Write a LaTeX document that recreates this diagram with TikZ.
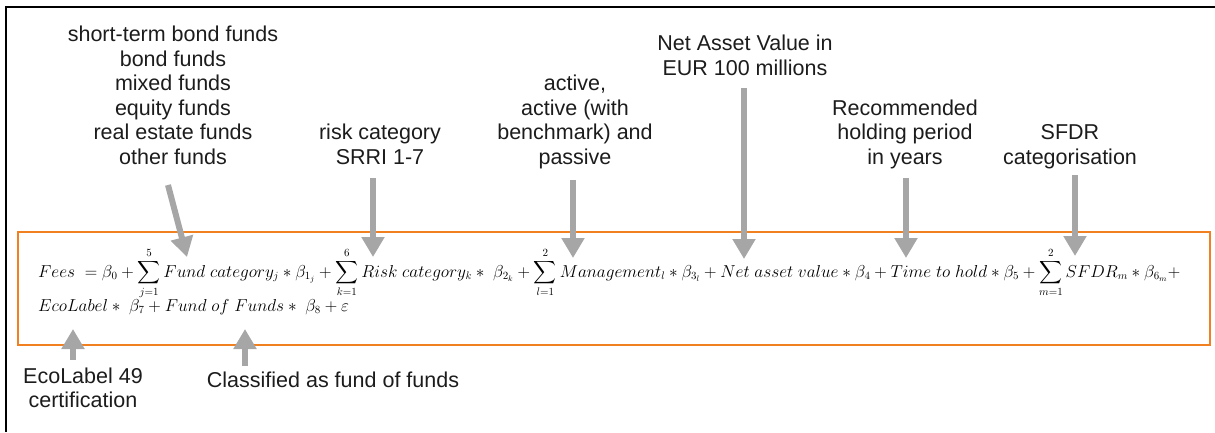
\documentclass[tikz,border=0pt]{standalone}
\usepackage{amsmath,amssymb}
\usepackage[no-math]{fontspec}
\newfontfamily\labelfont{Liberation Sans}
\usetikzlibrary{arrows.meta}
\definecolor{pointergray}{RGB}{166,166,166}
\definecolor{frameorange}{RGB}{240,128,32}
\definecolor{labeltext}{RGB}{28,28,28}

\begin{document}
\begin{tikzpicture}[x=1pt,y=-1pt,
	lbl/.style={font=\labelfont\fontsize{21.5}{24.5}\selectfont,text=labeltext,align=center,inner sep=0pt},
	pointer/.style={draw=pointergray,line width=6pt,-{Triangle[width=22pt,length=20pt]}},
	eqn/.style={font=\fontsize{15.9}{19}\selectfont,inner sep=0pt,anchor=base west}]
	%\draw[help lines] (0,0) grid[step=50] (1215,432);
	\useasboundingbox (0,0) rectangle (1215,432);
	\draw[line width=2pt] (6,432) -- (6,7) -- (1215,7);
	\draw[frameorange,line width=2pt] (18,232) rectangle (1210,345);
	\node[eqn] (eqA) at (38,277) {$\displaystyle Fees\ = \beta_0 + \sum_{j=1}^{5} Fund\ category_j * \beta_{1_j} + \sum_{k=1}^{6} Risk\ category_k *\ \beta_{2_k} + \sum_{l=1}^{2} Management_l * \beta_{3_l} + Net\ asset\ value * \beta_4 + Time\ to\ hold * \beta_5 + \sum_{m=1}^{2} SFDR_m * \beta_{6_m} +$};
	\node[eqn] (eqB) at (38,311) {$EcoLabel *\ \beta_7 + Fund\ of\ Funds *\ \beta_8 + \varepsilon$};
	\node[lbl,anchor=south] (fundtxt) at (173,172) {short-term bond funds\\bond funds\\mixed funds\\equity funds\\real estate funds\\other funds\strut};
	\node[lbl,anchor=south] (risktxt) at (380,172) {risk category\\SRRI 1-7\strut};
	\node[lbl,anchor=south] (mgmttxt) at (575,172) {active,\\active (with\\benchmark) and\\passive\strut};
	\node[lbl,anchor=south] (navtxt) at (745,83) {Net Asset Value in\\EUR 100 millions\strut};
	\node[lbl,anchor=south] (holdtxt) at (905,172) {Recommended\\holding period\\in years\strut};
	\node[lbl,anchor=south] (sfdrtxt) at (1070,172) {SFDR\\categorisation\strut};
	\node[lbl,anchor=north] (ecotxt) at (83,366) {\strut EcoLabel 49\\certification};
	\node[lbl,anchor=north] (foftxt) at (333,370) {\strut Classified as fund of funds};
	\coordinate (atFund) at (187,257);
	\coordinate (atRisk) at (373,257);
	\coordinate (atMgmt) at (573,258);
	\coordinate (atNav) at (744,259);
	\coordinate (atHold) at (906,258);
	\coordinate (atSfdr) at (1075,256);
	\coordinate (atEco) at (73,329);
	\coordinate (atFof) at (245,329);
	\draw[pointer] ([shift={(-5,13)}]fundtxt.south) -- (atFund);
	\draw[pointer,shorten <=6pt] (risktxt.south -| atRisk) -- (atRisk);
	\draw[pointer,shorten <=8pt] (mgmttxt.south -| atMgmt) -- (atMgmt);
	\draw[pointer,shorten <=5pt] (navtxt.south -| atNav) -- (atNav);
	\draw[pointer,shorten <=6pt] (holdtxt.south -| atHold) -- (atHold);
	\draw[pointer,shorten <=3pt] (sfdrtxt.south -| atSfdr) -- (atSfdr);
	\draw[pointer,shorten <=6pt] (ecotxt.north -| atEco) -- (atEco);
	\draw[pointer,shorten <=4pt] (foftxt.north -| atFof) -- (atFof);
\end{tikzpicture}
\end{document}
